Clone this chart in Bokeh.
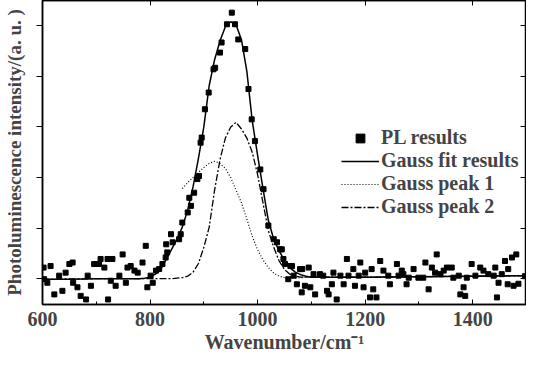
from bokeh.plotting import figure
from bokeh.models import Range1d, LinearAxis, FixedTicker, Legend, LegendItem
from bokeh.embed import file_html
from bokeh.resources import INLINE

# ---------------- data ----------------
pl_x = [602, 603, 609, 615, 622, 631, 637, 643, 650, 656, 657, 665, 671, 681, 684,
        690, 696, 705, 708, 715, 721, 722, 727, 730, 736, 743, 749, 755, 758, 764,
        771, 777, 786, 792, 795, 801, 805, 811, 817, 823, 829, 830, 832, 839, 842,
        854, 857, 860, 870, 873, 876, 882, 888, 891, 894, 896, 902, 909, 918, 921,
        930, 933, 943, 952, 958, 964, 977, 983, 989, 995, 1005, 1011, 1020, 1030, 1036,
        1042, 1045, 1048, 1051, 1057, 1061, 1064, 1067, 1073, 1079, 1082, 1083, 1088, 1095, 1098,
        1104, 1107, 1116, 1122, 1129, 1132, 1138, 1141, 1147, 1154, 1160, 1166, 1169, 1178, 1181,
        1188, 1191, 1197, 1200, 1209, 1212, 1215, 1221, 1228, 1234, 1243, 1246, 1259, 1262, 1268,
        1271, 1277, 1281, 1290, 1299, 1308, 1312, 1318, 1324, 1330, 1333, 1340, 1346, 1352, 1361,
        1364, 1374, 1377, 1383, 1386, 1389, 1398, 1405, 1414, 1420, 1429, 1439, 1442, 1445, 1448,
        1454, 1460, 1465, 1466, 1473, 1476, 1481, 1485, 1497]
pl_y = [1.22, 0.99, 0.92, 1.25, 0.69, 1.06, 0.76, 1.12, 1.29, 1.32, 0.92, 0.83, 0.66, 0.59, 1.06,
        0.86, 1.29, 1.29, 1.39, 1.22, 1.39, 0.59, 0.96, 1.39, 0.86, 1.06, 1.48, 0.92, 1.22, 1.25,
        1.16, 1.12, 1.32, 1.65, 0.83, 1.06, 0.92, 1.16, 1.19, 1.29, 1.42, 1.68, 1.52, 1.88, 1.72,
        1.78, 1.88, 2.11, 2.31, 2.60, 2.44, 2.70, 2.97, 3.03, 3.69, 3.79, 4.35, 4.68, 5.14, 5.17,
        5.47, 5.67, 6.03, 6.26, 6.03, 5.73, 5.54, 4.75, 4.15, 3.72, 3.16, 2.77, 2.05, 1.78, 1.72,
        1.58, 1.58, 1.39, 1.29, 0.99, 1.25, 1.25, 1.06, 0.89, 1.19, 0.73, 1.19, 0.86, 1.22, 0.83,
        1.09, 0.69, 1.09, 1.06, 0.76, 0.69, 0.89, 1.12, 0.59, 1.06, 0.89, 1.39, 1.06, 1.19, 0.86,
        1.06, 1.32, 0.83, 1.12, 0.63, 1.19, 0.79, 0.63, 1.35, 1.16, 1.06, 0.89, 1.29, 1.06, 1.16,
        1.09, 0.89, 1.02, 1.19, 1.02, 1.02, 1.32, 0.79, 1.22, 1.12, 1.48, 1.09, 1.16, 1.22, 1.22,
        1.02, 1.06, 0.69, 0.83, 0.66, 1.02, 1.29, 1.06, 1.22, 1.16, 1.09, 1.06, 1.22, 0.63, 0.92,
        1.09, 1.35, 0.89, 1.19, 1.42, 0.86, 1.48, 0.90, 1.05]

fit_x = [600, 650, 700, 750, 780, 790, 800, 810, 820, 830, 840, 850, 860, 870, 880,
         890, 900, 910, 920, 930, 940, 950, 960, 970, 980, 990, 1000, 1010, 1020, 1030,
         1040, 1050, 1060, 1070, 1080, 1090, 1100, 1200, 1300, 1400, 1500]
fit_y = [0.99, 0.99, 1.00, 1.00, 1.00, 1.01, 1.03, 1.09, 1.19, 1.38, 1.58, 1.78, 2.02, 2.36, 2.82,
         3.38, 4.00, 4.82, 5.33, 5.70, 5.98, 6.08, 6.02, 5.72, 5.10, 4.12, 3.44, 2.78, 2.15, 1.78,
         1.55, 1.36, 1.22, 1.13, 1.08, 1.05, 1.03, 1.03, 1.04, 1.05, 1.06]

peak1_x = [860, 870, 880, 890, 900, 910, 920, 930, 940, 950, 960, 970, 980, 990, 1000,
           1010, 1020, 1030, 1040, 1050, 1060, 1100, 1200, 1300, 1400, 1500]
peak1_y = [2.78, 2.90, 3.00, 3.10, 3.20, 3.28, 3.32, 3.28, 3.18, 3.00, 2.75, 2.50, 2.18, 1.84, 1.57,
           1.37, 1.22, 1.11, 1.05, 1.02, 1.01, 1.03, 1.03, 1.04, 1.05, 1.06]

peak2_x = [600, 700, 800, 840, 850, 860, 870, 880, 890, 900, 910, 920, 930, 940, 950,
           960, 970, 980, 990, 1000, 1010, 1020, 1030, 1040, 1050, 1060, 1070, 1080, 1100, 1200,
           1300, 1400, 1500]
peak2_y = [0.99, 1.00, 1.00, 1.00, 1.01, 1.02, 1.05, 1.13, 1.30, 1.62, 2.02, 2.75, 3.35, 3.78, 4.00,
           4.09, 3.96, 3.78, 3.50, 3.06, 2.50, 1.95, 1.62, 1.35, 1.18, 1.09, 1.05, 1.03, 1.03, 1.03,
           1.04, 1.05, 1.06]

x_ticks = [600, 800, 1000, 1200, 1400]
y_ticks = [1, 2, 3, 4, 5, 6]

FONT = "Liberation Serif"

p = figure(frame_width=484, frame_height=304,
           x_range=Range1d(600, 1500), y_range=Range1d(0.49, 6.50),
           output_backend="svg", toolbar_location=None,
           min_border_left=41, min_border_top=0, min_border_right=0, min_border_bottom=0,
           background_fill_color="white", border_fill_color="white")
p.grid.visible = False
p.outline_line_color = "black"
p.outline_line_width = 1.5

# bottom axis
xa = p.xaxis[0]
xa.ticker = FixedTicker(ticks=x_ticks, minor_ticks=list(range(600, 1501, 100)))
xa.axis_label = "Wavenumber/cm\u207b\u00b9"
xa.axis_label_text_font = FONT
xa.axis_label_text_font_size = "20px"
xa.axis_label_text_font_style = "bold"
xa.axis_label_standoff = 2
xa.major_label_text_font = FONT
xa.major_label_text_font_size = "20px"
xa.major_label_text_font_style = "bold"
xa.major_label_standoff = 7
xa.major_tick_in = 5
xa.major_tick_out = 0
xa.minor_tick_in = 3
xa.minor_tick_out = 0
xa.axis_line_width = 1.5

# left axis (no tick labels)
ya = p.yaxis[0]
ya.ticker = FixedTicker(ticks=y_ticks)
ya.major_label_overrides = {t: "" for t in y_ticks}
ya.major_label_text_color = None
ya.major_label_standoff = 0
ya.axis_label = "Photoluminescence intensity/(a. u. )"
ya.axis_label_text_font = FONT
ya.axis_label_text_font_size = "19px"
ya.axis_label_text_font_style = "bold"
ya.axis_label_standoff = 12
ya.major_tick_in = 0
ya.major_tick_out = 6
ya.minor_tick_in = 0
ya.minor_tick_out = 0
ya.axis_line_width = 1.5

# right axis (ticks only)
ra = LinearAxis(ticker=FixedTicker(ticks=y_ticks),
                major_label_overrides={t: "" for t in y_ticks}, major_label_text_color=None,
                major_tick_in=6, major_tick_out=0, minor_tick_in=0, minor_tick_out=0,
                axis_line_width=1.5, major_label_standoff=0)
p.add_layout(ra, "right")

# top axis (ticks only)
ta = LinearAxis(ticker=FixedTicker(ticks=x_ticks),
                major_label_overrides={t: "" for t in x_ticks}, major_label_text_color=None,
                major_tick_in=5, major_tick_out=0, minor_tick_in=0, minor_tick_out=0,
                axis_line_width=1.5, major_label_standoff=0)
p.add_layout(ta, "above")

r_fit = p.line(fit_x, fit_y, line_color="black", line_width=1.5)
r_p1 = p.line(peak1_x, peak1_y, line_color="black", line_width=1.2, line_dash="1 2")
r_p2 = p.line(peak2_x, peak2_y, line_color="black", line_width=1.3, line_dash="7 2 2 2")
r_pl = p.scatter(pl_x, pl_y, marker="square", size=5, fill_color="black", line_color="black")

legend = Legend(items=[
    LegendItem(label="PL results", renderers=[r_pl]),
    LegendItem(label="Gauss fit results", renderers=[r_fit]),
    LegendItem(label="Gauss peak 1", renderers=[r_p1]),
    LegendItem(label="Gauss peak 2", renderers=[r_p2]),
], location=(299, 86))
legend.label_text_font = FONT
legend.label_text_font_size = "20px"
legend.label_text_font_style = "bold"
legend.glyph_width = 38
legend.glyph_height = 22
legend.label_height = 22
legend.label_standoff = 2
legend.spacing = 0
legend.padding = 0
legend.margin = 0
legend.border_line_alpha = 0
legend.background_fill_alpha = 0
p.add_layout(legend)

open("out.html", "w").write(file_html(p, INLINE))
